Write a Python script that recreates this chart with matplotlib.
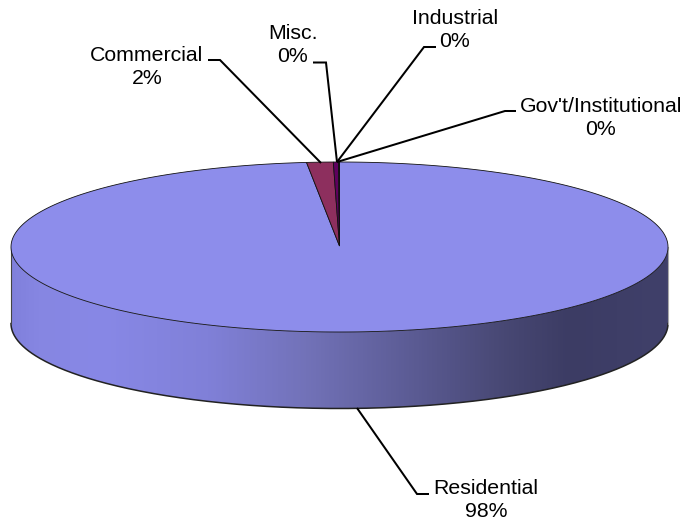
import numpy as np
import matplotlib
matplotlib.use("Agg")
import matplotlib.pyplot as plt
from matplotlib.colors import LinearSegmentedColormap
from matplotlib.patches import Polygon

# ---- data ----
categories = ["Residential", "Commercial", "Misc.", "Industrial", "Gov't/Institutional"]
values = [98.4, 1.3, 0.26, 0.02, 0.02]
percent_labels = ["98%", "2%", "0%", "0%", "0%"]

# ---- style / layout ----
slice_colors = ["#8D8DEB", "#8D2F5E", "#5E005E", "#8D8DB0", "#8D8D60"]
CX, CY, RX, RY, DEPTH = 339.5, 247.0, 328.5, 85.0, 76.5
FONT = 15.3

label_pos = {
    "Residential": (486, 500),
    "Commercial": (147, 67),
    "Misc.": (293, 45),
    "Industrial": (455, 30),
    "Gov't/Institutional": (601, 118),
}
leaders = {
    "Residential": [(429, 494), (417, 494), (357, 408)],
    "Commercial": [(208, 60), (220, 60), (321, 163)],
    "Misc.": [(313, 62.5), (326, 62.5), (337, 162)],
    "Industrial": [(436, 47), (424, 47), (337, 162)],
    "Gov't/Institutional": [(516, 111), (505, 111), (337, 162)],
}

plt.rcParams["font.family"] = ["Liberation Sans", "DejaVu Sans"]
fig = plt.figure(figsize=(6.85, 5.25), dpi=100)
ax = fig.add_axes([0, 0, 1, 1])
ax.set_xlim(0, 685)
ax.set_ylim(525, 0)
ax.axis("off")


def ell(theta, dy=0.0):
    """theta is measured clockwise from 12 o'clock, in radians."""
    return CX + RX * np.sin(theta), CY + dy - RY * np.cos(theta)


# side wall with horizontal shading
t = np.linspace(np.pi / 2, 3 * np.pi / 2, 400)
xt, yt = ell(t)
xb, yb = ell(t[::-1], DEPTH)
side_pts = np.r_[np.c_[xt, yt], np.c_[xb, yb]]
side = Polygon(side_pts, closed=True, facecolor="none", edgecolor="none")
ax.add_patch(side)
shade = LinearSegmentedColormap.from_list("shade", [
    (0.00, "#8080DC"), (0.04, "#8686E2"), (0.14, "#8888E6"), (0.30, "#8080D8"),
    (0.45, "#7272B8"), (0.62, "#5A5A92"), (0.75, "#484874"), (0.85, "#3C3C64"),
    (1.00, "#40406A"),
])
im = ax.imshow(np.linspace(0, 1, 512)[None, :], cmap=shade, aspect="auto",
               extent=(CX - RX, CX + RX, CY + RY + DEPTH, CY), zorder=1)
im.set_clip_path(side)
ax.set_xlim(0, 685)
ax.set_ylim(525, 0)
ax.plot(*np.c_[xb, yb].T, color="#222222", lw=1.1, zorder=2)
ax.plot([CX - RX, CX - RX], [CY, CY + DEPTH], color="#444444", lw=0.8, zorder=2)
ax.plot([CX + RX, CX + RX], [CY, CY + DEPTH], color="#AAAAAA", lw=0.8, zorder=2)

# top face wedges, clockwise from 12 o'clock
fractions = np.array(values) / np.sum(values)
edges = np.r_[0, np.cumsum(fractions)] * 2 * np.pi
apex_y = CY - 1
for i, name in enumerate(categories):
    th = np.linspace(edges[i], edges[i + 1], max(3, int(600 * fractions[i])))
    x, y = ell(th)
    pts = np.r_[[(CX, apex_y)], np.c_[x, y]]
    ax.add_patch(Polygon(pts, closed=True, facecolor=slice_colors[i],
                         edgecolor="#111111", lw=0.6, zorder=3))

# leader lines and labels
for name, pct in zip(categories, percent_labels):
    x, y = label_pos[name]
    pts = np.array(leaders[name])
    ax.plot(pts[:, 0], pts[:, 1], color="black", lw=1.45, zorder=4,
            solid_joinstyle="miter", solid_capstyle="butt")
    ax.text(x, y, f"{name}\n{pct}", ha="center", va="center", fontsize=FONT,
            color="black", linespacing=1.3, zorder=5)

fig.savefig("out.png", dpi=100, facecolor="white")
